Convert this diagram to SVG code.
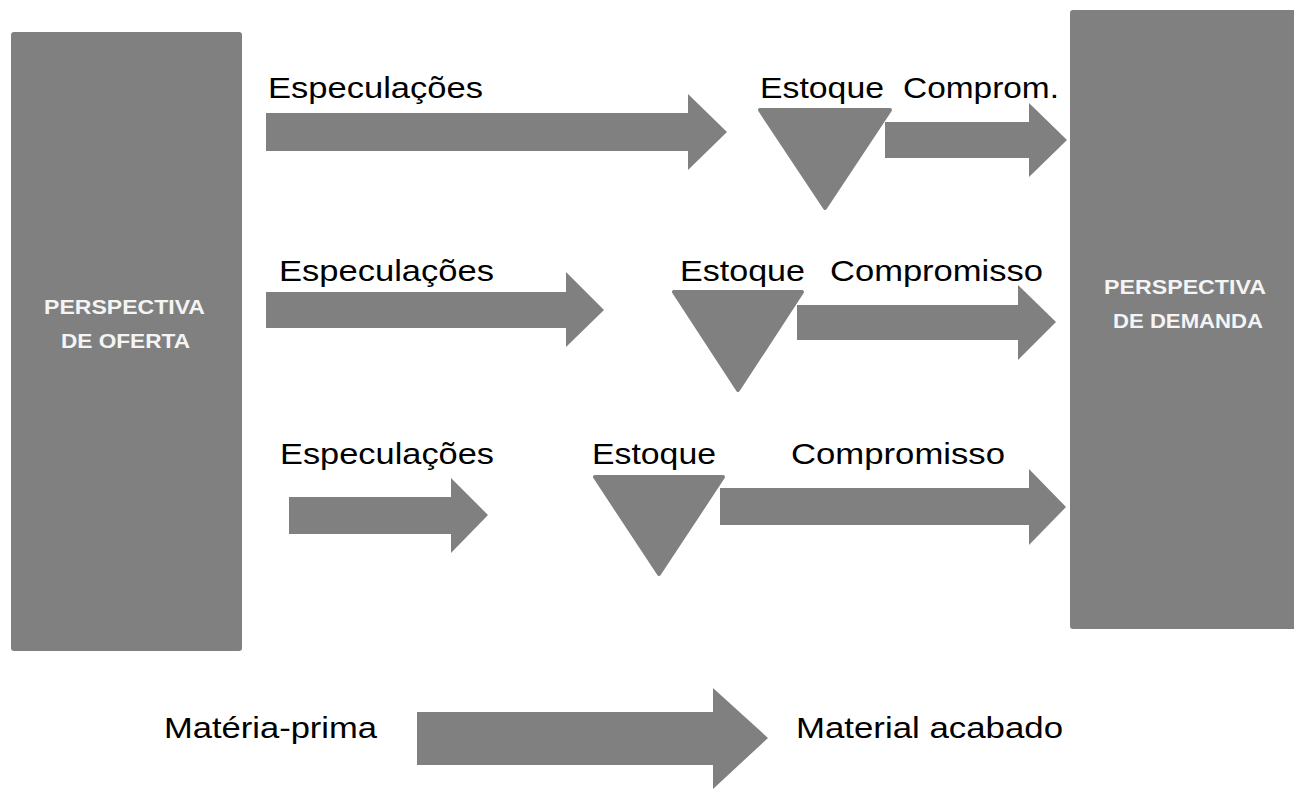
<svg xmlns="http://www.w3.org/2000/svg" width="1294" height="789" viewBox="0 0 1294 789">
  <style>
    .box { fill: #808080; }
    .boxlabel { font-family: "Liberation Sans", Arial, sans-serif; font-weight: bold; font-size: 21px; fill: #f4f4f4; }
    .label { font-family: "Liberation Sans", Arial, sans-serif; font-size: 30px; fill: #000000; }
    .flow { fill: #808080; }
    .stock { fill: #808080; stroke: #808080; stroke-width: 4; stroke-linejoin: round; }
  </style>
  <rect width="1294" height="789" fill="#ffffff"/>

  <!-- supply side -->
  <g id="perspectiva-oferta">
    <rect class="box" x="11" y="32" width="231" height="619" rx="3"/>
    <text class="boxlabel" x="44" y="314" textLength="161" lengthAdjust="spacingAndGlyphs">PERSPECTIVA</text>
    <text class="boxlabel" x="61" y="348" textLength="129" lengthAdjust="spacingAndGlyphs">DE OFERTA</text>
  </g>

  <!-- demand side -->
  <g id="perspectiva-demanda">
    <rect class="box" x="1070" y="10" width="234" height="619" rx="3"/>
    <text class="boxlabel" x="1104" y="294" textLength="162" lengthAdjust="spacingAndGlyphs">PERSPECTIVA</text>
    <text class="boxlabel" x="1113" y="328" textLength="150" lengthAdjust="spacingAndGlyphs">DE DEMANDA</text>
  </g>

  <!-- stock points -->
  <g id="estoque-1">
    <polygon class="stock" points="760,110 890,110 825,208"/>
    <text class="label" x="760" y="98" textLength="124" lengthAdjust="spacingAndGlyphs">Estoque</text>
  </g>
  <g id="estoque-2">
    <polygon class="stock" points="674,292 802,292 738,390"/>
    <text class="label" x="680" y="281" textLength="125" lengthAdjust="spacingAndGlyphs">Estoque</text>
  </g>
  <g id="estoque-3">
    <polygon class="stock" points="595,477 723,477 659,574"/>
    <text class="label" x="592" y="464" textLength="124" lengthAdjust="spacingAndGlyphs">Estoque</text>
  </g>

  <!-- flow arrows -->
  <g id="connectors">
    <!-- row 1 -->
    <polygon class="flow" points="266,113 688,113 688,94 727,132 688,170 688,151 266,151"/>
    <polygon class="flow" points="885,122 1029,122 1029,103 1067,140 1029,177 1029,158 885,158"/>
    <!-- row 2 -->
    <polygon class="flow" points="266,292 566,292 566,272 604,310 566,347 566,328 266,328"/>
    <polygon class="flow" points="797,305 1018,305 1018,285 1056,322 1018,360 1018,340 797,340"/>
    <!-- row 3 -->
    <polygon class="flow" points="289,497 451,497 451,478 488,515 451,553 451,534 289,534"/>
    <polygon class="flow" points="720,488 1029,488 1029,469 1066,507 1029,545 1029,525 720,525"/>
    <!-- legend -->
    <polygon class="flow" points="417,712 713,712 713,688 768,738 713,789 713,765 417,765"/>
  </g>

  <!-- flow labels -->
  <g id="labels">
    <text class="label" x="268" y="98" textLength="215" lengthAdjust="spacingAndGlyphs">Especulações</text>
    <text class="label" x="903" y="98" textLength="156" lengthAdjust="spacingAndGlyphs">Comprom.</text>
    <text class="label" x="279" y="281" textLength="215" lengthAdjust="spacingAndGlyphs">Especulações</text>
    <text class="label" x="830" y="281" textLength="213" lengthAdjust="spacingAndGlyphs">Compromisso</text>
    <text class="label" x="280" y="464" textLength="214" lengthAdjust="spacingAndGlyphs">Especulações</text>
    <text class="label" x="791" y="464" textLength="214" lengthAdjust="spacingAndGlyphs">Compromisso</text>
  </g>

  <g id="legenda">
    <text class="label" x="164" y="738" textLength="213" lengthAdjust="spacingAndGlyphs">Matéria-prima</text>
    <text class="label" x="796" y="738" textLength="267" lengthAdjust="spacingAndGlyphs">Material acabado</text>
  </g>
</svg>
